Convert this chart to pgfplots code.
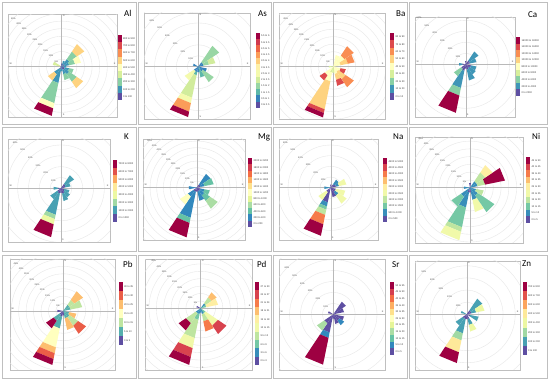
\documentclass[border=0pt]{standalone}
\usepackage{pgfplots}
\pgfplotsset{compat=1.18}
\usepackage{fontspec}
\setmainfont{Carlito}
\newfontfamily\smallsans{Liberation Sans}
\definecolor{sp0}{HTML}{5E4FA2}
\definecolor{sp1}{HTML}{3288BD}
\definecolor{sp2}{HTML}{66C2A5}
\definecolor{sp3}{HTML}{ABDDA4}
\definecolor{sp4}{HTML}{E6F598}
\definecolor{sp5}{HTML}{FFFFBF}
\definecolor{sp6}{HTML}{FEE08B}
\definecolor{sp7}{HTML}{FDAE61}
\definecolor{sp8}{HTML}{F46D43}
\definecolor{sp9}{HTML}{D53E4F}
\definecolor{sp10}{HTML}{9E0142}
\def\HW{11}
\def\ncls{9}
\newcommand\tinyf{\smallsans\fontsize{2.3}{2.6}\selectfont}
\newcommand\legf{\smallsans\fontsize{2.5}{2.8}\selectfont}
\newcommand\mkcol[1]{%
 \pgfmathsetmacro\tpos{#1*10/(\ncls-1)}%
 \pgfmathtruncatemacro\ci{floor(\tpos)}%
 \pgfmathtruncatemacro\cj{min(\ci+1,10)}%
 \pgfmathtruncatemacro\cp{round(100*(1-(\tpos-\ci)))}%
 \xdef\ccol{sp\ci!\cp!sp\cj}}
\newcommand\Wd[2]{%
 \pgfmathsetmacro\angA{90-#1-\HW}%
 \pgfmathsetmacro\angB{90-#1+\HW}%
 \pgfmathsetmacro\cA{cos(\angA)}\pgfmathsetmacro\sA{sin(\angA)}%
 \pgfmathsetmacro\cB{cos(\angB)}\pgfmathsetmacro\sB{sin(\angB)}%
 \gdef\prevR{0}%
 \foreach \r/\k in {#2}{%
   \mkcol{\k}%
   \pgfmathsetmacro\xa{\prevR*\cA}\pgfmathsetmacro\ya{\prevR*\sA}%
   \pgfmathsetmacro\xb{\r*\cA}\pgfmathsetmacro\yb{\r*\sA}%
   \pgfmathsetmacro\xc{\r*\cB}\pgfmathsetmacro\yc{\r*\sB}%
   \pgfmathsetmacro\xd{\prevR*\cB}\pgfmathsetmacro\yd{\prevR*\sB}%
   \edef\tmp{\noexpand\addplot[fill=\ccol,draw=none,forget plot] coordinates {(\xa,\ya) (\xb,\yb) (\xc,\yc) (\xd,\yd)};}%
   \tmp
   \xdef\prevR{\r}}}
\newcommand\Panel[8]{%
 \pgfmathsetmacro\PXmin{(#1-#5)/#7}%
 \pgfmathsetmacro\PXmax{(#2-#5)/#7}%
 \pgfmathsetmacro\PYmin{(#6-#4)/#7}%
 \pgfmathsetmacro\PYmax{(#6-#3)/#7}%
 \pgfmathsetmacro\PAx{#1}%
 \pgfmathsetmacro\PAy{383-#4}%
 \def\PS{#7}\def\ncls{#8}}
\newcommand\Grid[2]{%
 \pgfplotsinvokeforeach{#1}{\draw[gray!20,line width=0.35pt] (axis cs:0,0) circle[radius=##1];}%
 \draw[gray!55,line width=0.4pt] (axis cs:\PXmin,0) -- (axis cs:\PXmax,0);%
 \draw[gray!55,line width=0.4pt] (axis cs:0,\PYmin) -- (axis cs:0,\PYmax);%
 \pgfplotsinvokeforeach{#2}{\node[font=\tinyf,text=black!70,inner sep=0pt] at (axis cs:{-0.7071*##1},{0.7071*##1}) {##1\%};}%
 \node[font=\tinyf,text=black!70,anchor=north west,inner sep=1pt] at (axis cs:0,\PYmax) {N};%
 \node[font=\tinyf,text=black!70,anchor=south west,inner sep=1pt] at (axis cs:0,\PYmin) {S};%
 \node[font=\tinyf,text=black!70,anchor=south east,inner sep=1.5pt] at (axis cs:\PXmax,0) {E};%
 \node[font=\tinyf,text=black!70,anchor=south west,inner sep=1.5pt] at (axis cs:\PXmin,0) {W};}
\newcommand\Leg[4]{%
 \pgfmathsetmacro\lh{(#3-#2)/\ncls}%
 \foreach \lab [count=\i from 0] in {#4}{%
  \mkcol{\i}%
  \fill[\ccol] (#1,{383-#3+\i*\lh}) rectangle ++(4.2,\lh);
  \node[anchor=west,inner sep=0pt,font=\legf,text=black!75] at ({#1+5.4},{383-#3+(\i+0.5)*\lh}) {\lab};}}
\newcommand\Title[3]{\node[anchor=base west,inner sep=0pt,font=\fontsize{9}{10}\selectfont] at (#1,{383-#2}) {#3};}
\pgfplotsset{rose/.style={anchor=south west, ticks=none, axis line style={gray!50, line width=0.5pt}, at={(\PAx pt,\PAy pt)}, x=\PS pt, y=\PS pt, xmin=\PXmin, xmax=\PXmax, ymin=\PYmin, ymax=\PYmax}}
\begin{document}
\begin{tikzpicture}[x=1pt,y=1pt]
\fill[white] (0,0) rectangle (550,383);
\path[use as bounding box] (0,0) rectangle (550,383);
% panel frames
\foreach \xa/\xb in {2.5/136, 138.5/271.5, 273.5/407, 409.5/547.5}{
 \foreach \ya/\yb in {2.5/124, 127.5/251.5, 255/378}{
  \draw[gray!50,line width=0.7pt] (\xa,383-\ya) rectangle (\xb,383-\yb);}}
% ---------------- Al
\Panel{8}{117}{14}{117}{61.7}{66.7}{1.52}{9}
\begin{axis}[rose]
\Grid{5,10,15,20,25,30,35,40,45,50}{5,10,15,20,25,30,35,40,45}
\Wd{202.5}{2/0, 11/1, 24.5/2, 28/4, 33/8}
\Wd{225}{2/0, 6/1, 11/5}
\Wd{135}{2/0, 6/1, 12/2, 17/5}
\Wd{157.5}{2/0, 5/1, 9/2}
\Wd{112.5}{2/0, 5/1, 8/2}
\Wd{45}{2/0, 6/1, 12/2, 18/5}
\Wd{67.5}{2/0, 5/1, 9/2, 13/4}
\Wd{292.5}{1/0, 6/3}
\Wd{180}{3/1}
\Wd{90}{3/1}
\Wd{22.5}{4/1}
\Wd{0}{2/0}
\end{axis}
\Leg{117.5}{35}{100}{0 to 100,100 to 200,200 to 300,300 to 400,400 to 500,500 to 600,600 to 700,700 to 800,800 to 900}
\Title{124}{17}{Al}
% ---------------- As
\Panel{144}{250}{13}{119}{198.3}{66.7}{1.093}{12}
\begin{axis}[rose]
\Grid{10,20,30,40,50,60,70}{10,20,30,40,50,60}
\Wd{202.5}{5/1, 8/2, 29/4, 34/5, 42/8, 47/11}
\Wd{225}{5/1, 15/5}
\Wd{45}{5/1, 23/3}
\Wd{67.5}{5/1, 10/3, 16/4}
\Wd{135}{5/1, 17/3}
\Wd{157.5}{10/2}
\Wd{112.5}{8/1}
\Wd{292.5}{5/1}
\Wd{180}{5/1}
\end{axis}
\Leg{255.5}{33}{108}{0 to 0.5,0.5 to 1,1 to 1.5,1.5 to 2,2 to 2.5,2.5 to 3,3 to 3.5,3.5 to 4,4 to 4.5,4.5 to 5,5 to 5.5,5.5 to 6}
\Title{258}{17}{As}
% ---------------- Ba
\Panel{279}{385}{13}{119}{333.3}{66.7}{1.5}{9}
\begin{axis}[rose]
\Grid{5,10,15,20,25,30,35,40,45,50}{5,10,15,20,25,30,35,40,45}
\Wd{202.5}{4/3, 10/4, 29/5, 31.5/7, 34.5/8}
\Wd{225}{7/4, 11/7}
\Wd{157.5}{5/4, 9/5, 13/7}
\Wd{135}{4/4, 10/5, 16.5/6}
\Wd{112.5}{5/4, 8.5/7}
\Wd{45}{9/4, 16.5/6}
\Wd{67.5}{5/4, 10/5, 14.5/6}
\Wd{22.5}{8/4}
\Wd{180}{4/3}
\Wd{270}{3/3}
\end{axis}
\Leg{390}{33}{100}{0 to 10,10 to 20,20 to 30,30 to 40,40 to 50,50 to 60,60 to 70,70 to 80,80 to 90}
\Title{396}{17}{Ba}
% ---------------- Ca
\Panel{415}{515}{17}{117}{465.7}{64.3}{1.1}{9}
\begin{axis}[rose]
\Grid{10,20,30,40,50,60,70}{10,20,30,40,50,60}
\Wd{202.5}{6/0, 22/1, 29/2, 45/8}
\Wd{225}{5/0, 13/2}
\Wd{45}{4/0, 14/1}
\Wd{67.5}{4/0, 10/1}
\Wd{157.5}{5/0, 15/1}
\Wd{135}{4/0, 11/1}
\Wd{112.5}{5/0, 10/1}
\Wd{270}{3/0, 6/1}
\Wd{180}{4/0}
\Wd{0}{3/0}
\end{axis}
\Leg{516}{37}{96}{0 to 2000,2000 to 4000,4000 to 6000,6000 to 8000,8000 to 10000,10000 to 12000,12000 to 14000,14000 to 16000,16000 to 18000}
\Title{528}{18}{Ca}
% ---------------- K
\Panel{8}{110}{139}{242}{61}{188.3}{1.083}{8}
\begin{axis}[rose]
\Grid{10,20,30,40,50,60,70}{10,20,30,40,50,60}
\Wd{202.5}{5/0, 25/1, 29/2, 34/3, 46/7}
\Wd{225}{4/0, 12/1}
\Wd{45}{5/0, 14.5/1}
\Wd{67.5}{4/0, 9/1}
\Wd{135}{4/0, 10/1}
\Wd{157.5}{5/0, 12/1}
\Wd{112.5}{3/0, 8/1}
\Wd{270}{3/0, 7/1}
\Wd{180}{4/0}
\end{axis}
\Leg{113}{160}{222}{0 to 1000,1000 to 2000,2000 to 3000,3000 to 4000,4000 to 5000,5000 to 6000,6000 to 7000,7000 to 8000}
\Title{124}{140}{K}
% ---------------- Mg
\Panel{143}{245}{139}{240}{196.7}{187.7}{1.333}{11}
\begin{axis}[rose]
\Grid{5,10,15,20,25,30,35,40,45,50,55}{5,10,15,20,25,30,35,40,45,50}
\Wd{202.5}{3/0, 23/1, 27/2, 38/10}
\Wd{225}{3/0, 8/1, 15/5}
\Wd{45}{3/0, 12.5/1}
\Wd{67.5}{3/0, 6/1, 13/2}
\Wd{135}{3/0, 7/1, 12/2, 19/3}
\Wd{157.5}{3/0, 10/1}
\Wd{112.5}{3/0, 6/1, 10/2}
\Wd{270}{6/1}
\Wd{180}{3/0}
\end{axis}
\Leg{248}{158}{227}{0 to 200,200 to 400,400 to 600,600 to 800,800 to 1000,1000 to 1200,1200 to 1400,1400 to 1600,1600 to 1800,1800 to 2000,2000 to 2200}
\Title{258}{140}{Mg}
% ---------------- Na
\Panel{279}{378}{139}{240}{330.7}{187.7}{1.067}{10}
\begin{axis}[rose]
\Grid{10,20,30,40,50,60,70}{10,20,30,40,50,60}
\Wd{202.5}{14/0, 18/1, 21/2, 26/3, 35/7, 46/9}
\Wd{225}{5/0, 14/4}
\Wd{135}{5/0, 9/1, 18/4}
\Wd{112.5}{5/0, 14/4}
\Wd{157.5}{9/0}
\Wd{45}{4/0, 9/1}
\Wd{67.5}{5/0, 8/1, 15/4}
\Wd{270}{6/1}
\Wd{0}{3/0}
\end{axis}
\Leg{383}{158}{222}{0 to 500,500 to 1000,1000 to 1500,1500 to 2000,2000 to 2500,2500 to 3000,3000 to 3500,3500 to 4000,4000 to 4500,4500 to 5000}
\Title{393}{140}{Na}
% ---------------- Ni
\Panel{415}{523}{137}{243}{470}{187.7}{1.553}{10}
\begin{axis}[rose]
\Grid{5,10,15,20,25,30,35,40,45,50}{5,10,15,20,25,30,35,40,45}
\Wd{67.5}{5/1, 10/3, 23/9}
\Wd{45}{5/1, 12/3, 17.5/5}
\Wd{202.5}{3/0, 13/1, 26/2, 29/3, 34.5/4}
\Wd{225}{7/1, 14.5/2}
\Wd{157.5}{8/1, 16/4}
\Wd{135}{6/1, 19/2}
\Wd{112.5}{4/1, 9/3}
\Wd{270}{4/1}
\Wd{180}{3/0}
\Wd{0}{3/0}
\end{axis}
\Leg{526}{157}{223}{0 to 5,5 to 10,10 to 15,15 to 20,20 to 25,25 to 30,30 to 35,35 to 40,40 to 45,45 to 50}
\Title{532}{140}{Ni}
% ---------------- Pb
\Panel{10}{115}{259}{370}{63.3}{311}{1.487}{7}
\begin{axis}[rose]
\Grid{5,10,15,20,25,30,35,40,45,50}{5,10,15,20,25,30,35,40,45}
\Wd{202.5}{4/0, 12/1, 25/3, 29/4, 33/5, 37/6}
\Wd{225}{3/0, 8/1, 14/6}
\Wd{45}{5/1, 9/2, 16/4}
\Wd{67.5}{5/1, 13/2}
\Wd{112.5}{4/1, 9/4}
\Wd{135}{5/1, 12/2, 18.5/5}
\Wd{157.5}{5/1, 13/4}
\Wd{270}{4/0}
\Wd{180}{3/0}
\end{axis}
\Leg{118.5}{282}{345}{0 to 5,5 to 10,10 to 15,15 to 20,20 to 25,25 to 30,30 to 35}
\Title{123}{268}{Pb}
% ---------------- Pd
\Panel{145}{252}{259}{370}{200.7}{308.3}{1.48}{10}
\begin{axis}[rose]
\Grid{5,10,15,20,25,30,35,40,45,50,55}{5,10,15,20,25,30,35,40,45}
\Wd{202.5}{4/1, 8/2, 20.5/3, 27.5/4, 33.6/8, 39/9}
\Wd{225}{4/1, 12/3, 18/9}
\Wd{45}{4/1, 9/3, 13/6}
\Wd{67.5}{4/2, 12/5}
\Wd{135}{4/2, 14/4, 21/8}
\Wd{157.5}{4/1, 9/3, 16/7}
\Wd{292.5}{3/0}
\Wd{180}{3/1}
\end{axis}
\Leg{255}{282}{365}{0 to 3,3 to 6,6 to 9,9 to 12,12 to 15,15 to 18,18 to 21,21 to 24,24 to 27,27 to 30}
\Title{257}{268}{Pd}
% ---------------- Sr
\Panel{279}{385}{259}{370}{333.3}{314.3}{1.093}{11}
\begin{axis}[rose]
\Grid{10,20,30,40,50,60,70}{10,20,30,40,50,60}
\Wd{202.5}{17/0, 22/1, 47/10}
\Wd{225}{10/0, 18/3}
\Wd{45}{14/0}
\Wd{67.5}{10/0}
\Wd{112.5}{10/0}
\Wd{135}{7/0, 12/1}
\Wd{157.5}{9/0}
\Wd{292.5}{5/0}
\Wd{180}{4/0}
\end{axis}
\Leg{390}{282}{355}{0 to 5,5 to 10,10 to 15,15 to 20,20 to 25,25 to 30,30 to 35,35 to 40,40 to 45,45 to 50,50 to 55}
\Title{392}{268}{Sr}
% ---------------- Zn
\Panel{415}{520}{261}{370}{466.7}{314.3}{1.213}{8}
\begin{axis}[rose]
\Grid{10,20,30,40,50,60}{10,20,30,40,50}
\Wd{202.5}{4/0, 16/1, 22/2, 32/4, 41/7}
\Wd{225}{4/0, 11/1}
\Wd{45}{4/0, 15.5/1}
\Wd{67.5}{4/0, 8/1, 15/3}
\Wd{157.5}{4/0, 9/1, 14.5/3}
\Wd{112.5}{3/0, 10/1}
\Wd{292.5}{5/1}
\Wd{180}{4/0}
\end{axis}
\Leg{522.5}{282}{355}{0 to 100,100 to 200,200 to 300,300 to 400,400 to 500,500 to 600,600 to 700,700 to 800}
\Title{522}{267}{Zn}
\end{tikzpicture}
\end{document}
